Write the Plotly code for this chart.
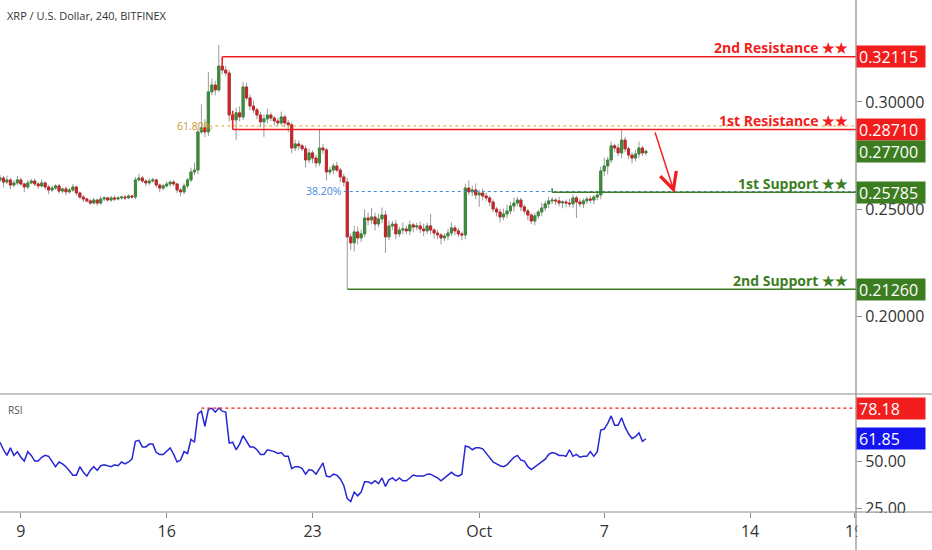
import pandas as pd
import plotly.graph_objects as go

# 4h candles, XRP/USD Bitfinex, Sep 8 - Oct 9 2019
close = [
    0.2645, 0.2626, 0.2636, 0.2612, 0.2622, 0.2636, 0.2617, 0.2603, 0.2622, 0.2631,
    0.2617, 0.2608, 0.2622, 0.2603, 0.2589, 0.2598, 0.2608, 0.2584, 0.2594, 0.2580,
    0.2589, 0.2603, 0.2575, 0.2556, 0.2547, 0.2538, 0.2528, 0.2542, 0.2528, 0.2547,
    0.2552, 0.2542, 0.2552, 0.2547, 0.2552, 0.2556, 0.2552, 0.2561, 0.2556, 0.2636,
    0.2645, 0.2631, 0.2622, 0.2631, 0.2636, 0.2612, 0.2598, 0.2608, 0.2617, 0.2626,
    0.2617, 0.2589, 0.2580, 0.2608, 0.2636, 0.2673, 0.2682, 0.2860, 0.2879, 0.2860,
    0.3047, 0.3079, 0.3056, 0.3168, 0.3149, 0.3135, 0.2939, 0.2916, 0.2949, 0.2930,
    0.3070, 0.3019, 0.2981, 0.2963, 0.2939, 0.2907, 0.2921, 0.2939, 0.2925, 0.2911,
    0.2902, 0.2930, 0.2902, 0.2893, 0.2785, 0.2804, 0.2795, 0.2781, 0.2729, 0.2762,
    0.2738, 0.2715, 0.2785, 0.2776, 0.2673, 0.2682, 0.2701, 0.2682, 0.2650, 0.2626,
    0.2370, 0.2342, 0.2393, 0.2365, 0.2384, 0.2458, 0.2449, 0.2463, 0.2430, 0.2454,
    0.2472, 0.2370, 0.2421, 0.2430, 0.2384, 0.2402, 0.2407, 0.2398, 0.2426, 0.2416,
    0.2421, 0.2407, 0.2398, 0.2421, 0.2402, 0.2388, 0.2379, 0.2365, 0.2374, 0.2388,
    0.2412, 0.2398, 0.2384, 0.2379, 0.2598, 0.2580, 0.2589, 0.2566, 0.2575, 0.2561,
    0.2552, 0.2533, 0.2500, 0.2486, 0.2463, 0.2477, 0.2491, 0.2514, 0.2528, 0.2542,
    0.2510, 0.2491, 0.2472, 0.2444, 0.2468, 0.2486, 0.2505, 0.2524, 0.2538, 0.2542,
    0.2538, 0.2528, 0.2533, 0.2528, 0.2524, 0.2552, 0.2533, 0.2524, 0.2538, 0.2547,
    0.2542, 0.2556, 0.2566, 0.2678, 0.2701, 0.2729, 0.2795, 0.2785, 0.2762, 0.2822,
    0.2781, 0.2752, 0.2738, 0.2757, 0.2785, 0.2762, 0.2770,
]
first_open = 0.2636

# wick lengths above / below the body, in units of 0.0001
hi_wick = [
    15, 10, 20, 8, 12, 18, 10, 6, 14, 10,
    12, 8, 16, 6, 10, 12, 8, 10, 6, 12,
    10, 14, 6, 8, 10, 6, 8, 10, 6, 12,
    8, 6, 10, 12, 8, 6, 10, 8, 6, 14,
    20, 10, 8, 12, 10, 6, 8, 10, 12, 8,
    10, 6, 8, 12, 10, 20, 35, 15, 110, 40,
    93, 30, 20, 98, 42, 20, 15, 20, 25, 30,
    25, 20, 15, 25, 10, 15, 20, 30, 12, 10,
    15, 25, 10, 15, 12, 20, 15, 10, 15, 20,
    12, 15, 84, 20, 10, 15, 12, 20, 10, 15,
    20, 15, 30, 25, 20, 40, 25, 42, 20, 25,
    35, 20, 25, 15, 20, 15, 30, 15, 20, 10,
    15, 20, 25, 15, 56, 10, 15, 10, 12, 20,
    25, 12, 15, 10, 20, 35, 20, 30, 15, 20,
    15, 10, 12, 10, 15, 25, 30, 20, 25, 15,
    10, 12, 10, 8, 15, 10, 25, 15, 20, 15,
    10, 20, 8, 12, 20, 15, 10, 15, 12, 10,
    15, 10, 12, 20, 40, 15, 20, 10, 20, 47,
    15, 10, 12, 20, 30, 10, 8,
]
lo_wick = [
    10, 25, 8, 20, 10, 12, 8, 25, 10, 6,
    10, 14, 8, 12, 20, 10, 8, 12, 10, 15,
    8, 10, 12, 10, 15, 8, 10, 6, 12, 8,
    10, 6, 8, 10, 6, 8, 10, 6, 8, 10,
    8, 10, 15, 10, 8, 12, 20, 10, 8, 12,
    10, 15, 20, 10, 12, 10, 15, 20, 10, 25,
    20, 15, 25, 10, 20, 15, 30, 25, 93, 20,
    15, 10, 20, 15, 20, 25, 70, 20, 15, 20,
    15, 10, 20, 35, 25, 15, 20, 10, 35, 15,
    25, 20, 15, 20, 40, 15, 20, 10, 25, 20,
    244, 33, 40, 30, 20, 15, 25, 20, 30, 15,
    20, 75, 15, 20, 25, 15, 20, 15, 20, 25,
    15, 20, 25, 15, 20, 25, 20, 30, 15, 20,
    15, 20, 15, 25, 20, 15, 20, 20, 56, 20,
    15, 20, 15, 20, 25, 15, 20, 15, 25, 15,
    20, 15, 25, 15, 20, 15, 20, 15, 20, 15,
    20, 15, 25, 20, 15, 20, 75, 15, 20, 15,
    15, 20, 15, 20, 25, 40, 15, 20, 15, 25,
    15, 20, 25, 15, 20, 15, 10,
]

rsi = [
    60, 56, 53, 57, 53, 55, 52, 50, 55, 53,
    50, 50, 52, 53, 52.5, 50, 47, 49.5, 48.5, 47,
    45, 42.5, 42.5, 47, 44, 42, 45, 47, 45, 47.5,
    48, 47.5, 47, 48, 47.5, 49.5, 48.5, 49.5, 51, 60.5,
    61, 57.5, 57.5, 59, 59, 54.5, 53.5, 53.5, 55, 57,
    53.5, 49.5, 50.5, 55, 54, 61.5, 60, 75, 76.5, 68.5,
    77.5, 78, 76, 78.18, 76.5, 76, 59.5, 60, 56, 59,
    63.5, 60.5, 57.5, 57.5, 56, 53.5, 53.5, 56, 55.5, 55,
    54, 54.5, 52.5, 52.5, 46, 47, 47, 46, 43, 45.5,
    45, 43, 46, 49, 42, 41.5, 43, 42.5, 40.5, 37,
    30, 28.5, 33.5, 31.5, 33.5, 39, 39, 38, 39.5, 38,
    41, 36.5, 40, 41, 39.5, 41, 39.5, 39.5, 41, 42.5,
    42, 42, 42, 43, 43, 42, 41, 39.5, 41, 43,
    44, 42.5, 42, 43, 58, 57.5, 56, 57, 57, 56.5,
    54, 52, 49.5, 48.5, 47.5, 47, 48, 50, 52, 53,
    50.5, 50, 47, 45.5, 47, 48, 49.5, 51, 53.5, 54.5,
    54, 53, 53, 52.5, 56, 52.5, 53.5, 52, 52.5, 52.5,
    55, 52.5, 55, 66.5, 67, 70, 74, 69, 69, 73,
    68, 64.5, 62, 63, 65, 60.5, 61.85,
]

res2, res1, sup1, sup2 = 0.32115, 0.28710, 0.25785, 0.21260
last_price = 0.27700
fib618, fib382 = 0.2888, 0.2582
rsi_max, rsi_last = 78.18, 61.85
arrow_from = ("2019-10-09 10:00", 0.2865)
arrow_to = ("2019-10-10 09:00", 0.2575)

dates = pd.date_range("2019-09-08 00:00", periods=len(close), freq="4h")
opens = [first_open] + close[:-1]
body_hi = [max(o, c) for o, c in zip(opens, close)]
body_lo = [min(o, c) for o, c in zip(opens, close)]
high = [h + w / 10000 for h, w in zip(body_hi, hi_wick)]
low = [l - w / 10000 for l, w in zip(body_lo, lo_wick)]

GREEN = "#3b8a3b"
RED = "#c4262b"
LINE_RED = "#f21d1d"
LINE_GREEN = "#3d7d22"
FONT = "Open Sans"
x_end = "2019-10-19 02:00"

fig = go.Figure()
# wicks (grey)
fig.add_trace(go.Candlestick(
    x=dates, open=opens, high=high, low=low, close=close,
    increasing=dict(line=dict(color="#9a9a9a", width=1), fillcolor="#9a9a9a"),
    decreasing=dict(line=dict(color="#9a9a9a", width=1), fillcolor="#9a9a9a"),
    hoverinfo="skip", showlegend=False))
# bodies
fig.add_trace(go.Candlestick(
    x=dates, open=opens, high=body_hi, low=body_lo, close=close,
    increasing=dict(line=dict(color=GREEN, width=1), fillcolor=GREEN),
    decreasing=dict(line=dict(color=RED, width=1), fillcolor=RED),
    showlegend=False))
fig.add_trace(go.Scatter(x=dates, y=rsi, mode="lines", xaxis="x2", yaxis="y2",
                         line=dict(color="#2626d4", width=1.5), showlegend=False))

shapes = []
def hline(y0, xstart, color, dash="solid", width=1.5, yref="y", xref="x"):
    shapes.append(dict(type="line", xref=xref, yref=yref, x0=xstart, x1=x_end,
                       y0=y0, y1=y0, line=dict(color=color, width=width, dash=dash)))

hline(fib618, dates[62], "#d6aa2a", dash="dot", width=1)
hline(fib382, dates[99], "#3f8ad8", dash="dot", width=1)
hline(res2, dates[64], LINE_RED)
hline(res1, dates[67], LINE_RED)
hline(sup1, dates[159], LINE_GREEN)
hline(sup2, dates[100], LINE_GREEN)
hline(rsi_max, dates[58], "#f21d1d", dash="dot", width=1.2, yref="y2", xref="x2")
# short vertical ends of the drawn levels
shapes.append(dict(type="line", xref="x", yref="y", x0=dates[64], x1=dates[64],
                   y0=res2, y1=high[64] - 0.004, line=dict(color=LINE_RED, width=1.5)))
shapes.append(dict(type="line", xref="x", yref="y", x0=dates[67], x1=dates[67],
                   y0=res1, y1=close[66] + 0.002, line=dict(color=LINE_RED, width=1.5)))
shapes.append(dict(type="line", xref="x", yref="y", x0=dates[159], x1=dates[159],
                   y0=sup1, y1=sup1 + 0.0018, line=dict(color=LINE_GREEN, width=1.5)))
# frame lines
shapes.append(dict(type="line", xref="paper", yref="paper", x0=1, x1=1, y0=-0.08, y1=1,
                   line=dict(color="#8c8c8c", width=1.2), layer="above"))
shapes.append(dict(type="line", xref="paper", yref="paper", x0=0, x1=1.09, y0=0.2305, y1=0.2305,
                   line=dict(color="#8c8c8c", width=1.2)))
shapes.append(dict(type="line", xref="paper", yref="paper", x0=0, x1=1.09, y0=0, y1=0,
                   line=dict(color="#8c8c8c", width=1.2), layer="above"))
# hide the clipped last date label past the price scale
shapes.append(dict(type="rect", xref="paper", yref="paper", x0=1.0015, x1=1.09, y0=-0.075, y1=-0.002,
                   fillcolor="white", line=dict(width=0), layer="above"))

ann = []
def level_text(text, y, color):
    ann.append(dict(text=f"<b>{text}</b>", xref="paper", yref="y", x=0.993, y=y,
                    xanchor="right", yanchor="middle", yshift=9, showarrow=False,
                    font=dict(family=FONT, size=14, color=color)))

def price_box(value, color, yref="y", fmt="{:.5f}"):
    ann.append(dict(text=fmt.format(value), xref="paper", yref=yref, x=1.0, y=value,
                    xanchor="left", yanchor="middle", showarrow=False, bgcolor=color,
                    width=64, height=17, borderpad=2, align="left",
                    font=dict(family=FONT, size=16, color="white")))

level_text("2nd Resistance ★★", res2, LINE_RED)
level_text("1st Resistance ★★", res1, LINE_RED)
level_text("1st Support ★★", sup1, LINE_GREEN)
level_text("2nd Support ★★", sup2, LINE_GREEN)
price_box(res2, LINE_RED)
price_box(res1, LINE_RED)
price_box(last_price, LINE_GREEN)
price_box(sup1, LINE_GREEN)
price_box(sup2, LINE_GREEN)
price_box(rsi_max, "#f21d1d", yref="y2", fmt="{:.2f}")
price_box(rsi_last, "#1414f0", yref="y2", fmt="{:.2f}")

ann.append(dict(text="61.80%", xref="x", yref="y", x=dates[62], y=fib618, xanchor="right",
                showarrow=False, font=dict(family=FONT, size=10.5, color="#c99a2e")))
ann.append(dict(text="38.20%", xref="x", yref="y", x=dates[99], y=fib382, xanchor="right",
                showarrow=False, font=dict(family=FONT, size=10.5, color="#3f8ad8")))
ann.append(dict(text="XRP / U.S. Dollar, 240, BITFINEX", xref="paper", yref="paper",
                x=0.006, y=0.9707, xanchor="left", yanchor="middle", showarrow=False,
                font=dict(family=FONT, size=11, color="#333333")))
ann.append(dict(text="RSI", xref="paper", yref="paper", x=0.007, y=0.199,
                xanchor="left", yanchor="middle", showarrow=False,
                font=dict(family=FONT, size=10, color="#555555")))
ann.append(dict(text="", xref="x", yref="y", axref="x", ayref="y",
                x=arrow_to[0], y=arrow_to[1], ax=arrow_from[0], ay=arrow_from[1],
                showarrow=True, arrowhead=5, arrowsize=2.2, arrowwidth=1.5,
                arrowcolor="#f21d1d"))

tick_dates = ["2019-09-09", "2019-09-16", "2019-09-23", "2019-10-01",
              "2019-10-07", "2019-10-14", "2019-10-19"]
tick_text = ["9", "16", "23", "Oct", "7", "14", "19"]

fig.update_layout(
    width=932, height=550,
    margin=dict(l=0, r=76, t=0, b=38, autoexpand=False),
    paper_bgcolor="white", plot_bgcolor="white",
    font=dict(family=FONT, color="#333333"),
    showlegend=False, boxgap=0.15,
    shapes=shapes, annotations=ann,
    xaxis=dict(domain=[0, 1], range=["2019-09-08 00:00", x_end], matches="x2",
               showticklabels=False, showgrid=False, zeroline=False,
               rangeslider=dict(visible=False), anchor="y"),
    yaxis=dict(domain=[0.2324, 1], range=[0.1641, 0.3476], side="right",
               tickvals=[0.20, 0.25, 0.30], tickformat=".5f", ticks="outside",
               ticklen=5, tickcolor="#8c8c8c", showgrid=False, zeroline=False,
               tickfont=dict(family=FONT, size=16, color="#333333"), anchor="x"),
    xaxis2=dict(domain=[0, 1], range=["2019-09-08 00:00", x_end], anchor="y2",
                tickvals=tick_dates, ticktext=tick_text, ticks="outside", ticklen=5,
                tickcolor="#8c8c8c", showgrid=False, zeroline=False,
                tickfont=dict(family=FONT, size=16, color="#333333")),
    yaxis2=dict(domain=[0, 0.2285], range=[22.9, 85.1], side="right", anchor="x2",
                tickvals=[25, 50], tickformat=".2f", ticks="outside", ticklen=5,
                tickcolor="#8c8c8c", showgrid=False, zeroline=False,
                tickfont=dict(family=FONT, size=16, color="#333333")),
)

# the page body has a default 8px margin; drop it so the figure sits at the corner
fig.write_html("out.html", config={"displayModeBar": False},
               post_script="document.body.style.margin='0';document.body.style.overflow='hidden';")
